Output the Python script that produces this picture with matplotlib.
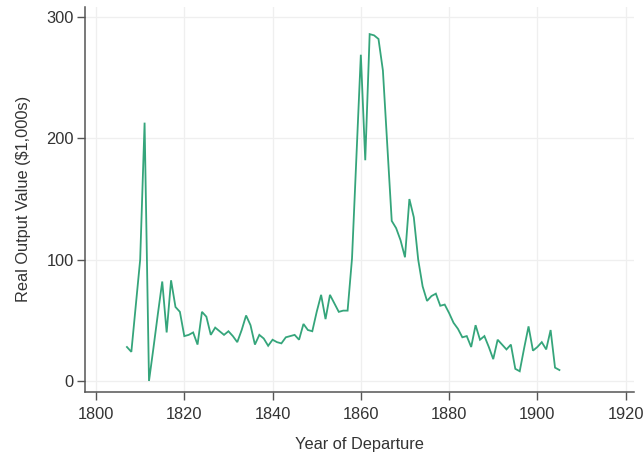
import matplotlib
matplotlib.use("Agg")
import matplotlib.pyplot as plt

years = list(range(1807, 1906))
values = [28, 24, 62, 100, 213, 0, 27, 55, 82, 40,
          83, 61, 57, 37, 38, 40, 30, 57, 53, 38,
          44, 41, 38, 41, 37, 32, 42, 54, 46, 30,
          38, 35, 29, 34, 32, 31, 36, 37, 38, 34,
          47, 42, 41, 57, 71, 51, 71, 64, 57, 58,
          58, 101, 185, 269, 182, 286, 285, 282, 256, 194,
          132, 126, 116, 102, 150, 135, 100, 78, 66, 70,
          72, 62, 63, 56, 48, 43, 36, 37, 28, 46,
          34, 37, 28, 18, 34, 30, 26, 30, 10, 8,
          27, 45, 25, 28, 32, 26, 42, 11, 9]

x_ticks = [1800, 1820, 1840, 1860, 1880, 1900, 1920]
y_ticks = [0, 100, 200, 300]
x_label = "Year of Departure"
y_label = "Real Output Value ($1,000s)"

plt.rcParams['font.family'] = ['Liberation Sans', 'DejaVu Sans']

fig = plt.figure(figsize=(6.44, 4.57), dpi=100)
ax = fig.add_axes([0.132, 0.1433, 0.8525, 0.842])

ax.plot(years, values, color='#35a57b', linewidth=1.3, solid_joinstyle='miter')

ax.set_xlim(1797.5, 1921.9)
ax.set_ylim(-8.7, 308.6)
ax.set_xticks(x_ticks)
ax.set_yticks(y_ticks)

ax.grid(True, color='#efefef', linewidth=0.9)
ax.set_axisbelow(True)

for s in ['top', 'right']:
    ax.spines[s].set_visible(False)
for s in ['left', 'bottom']:
    ax.spines[s].set_color('#555555')
    ax.spines[s].set_linewidth(1.1)

ax.tick_params(axis='both', colors='#555555', labelcolor='#333333',
               labelsize=11.8, length=6, width=1.0)
ax.tick_params(axis='x', pad=5)
ax.tick_params(axis='y', pad=2)

ax.set_xlabel(x_label, fontsize=11.8, color='#333333', labelpad=11)
ax.set_ylabel(y_label, fontsize=11.8, color='#333333', labelpad=11)

fig.savefig("out.png", dpi=100)
